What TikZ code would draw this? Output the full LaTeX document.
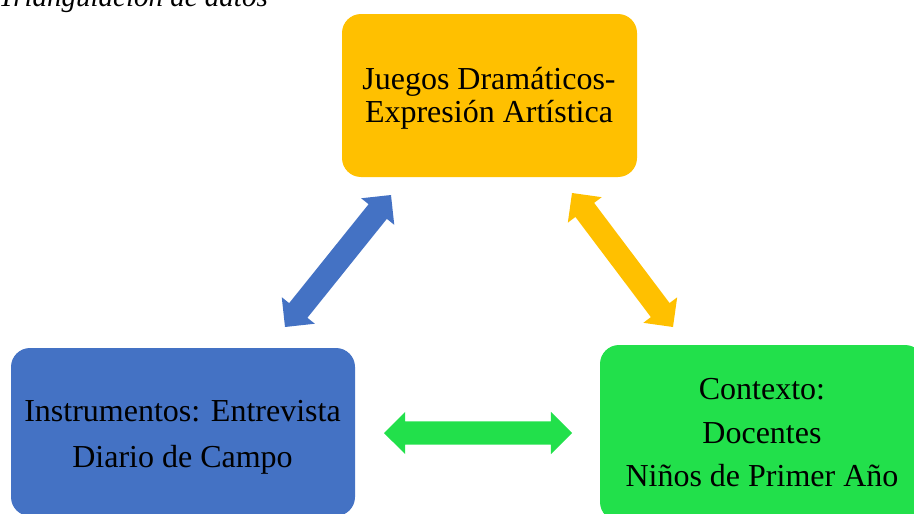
\documentclass[tikz,border=0pt]{standalone}
\usepackage{fontspec}
\setmainfont{Liberation Serif}
\usetikzlibrary{shapes.arrows,calc}
\definecolor{cyel}{HTML}{FFC000}
\definecolor{cblue}{HTML}{4472C4}
\definecolor{cgreen}{HTML}{22E04B}
\tikzset{
  box/.style={rounded corners=19pt, inner sep=0pt, draw=none},
  txt/.style={align=center, inner sep=0pt, text=black},
  dblarr/.style={double arrow, double arrow tip angle=90, double arrow head extend=9.5pt,
    inner xsep=0pt, inner ysep=11.5pt, fill=#1, draw=none},
}
\newcommand{\blockarrow}[3]{%
  \path let \p1=($(#3)-(#2)$), \n1={atan2(\y1,\x1)}, \n2={veclen(\x1,\y1)} in
    node[dblarr=#1, rotate=\n1, minimum height=\n2] at ($(#2)!0.5!(#3)$) {};}
\begin{document}
\begin{tikzpicture}[x=1pt,y=-1pt]
\useasboundingbox (0,0) rectangle (914,514);
% title (cut off at top)
\node[anchor=base east, inner sep=0pt, font=\itshape\fontsize{29}{32}\selectfont] (title) at (268,6) {Triangulación de datos};
% boxes
\node[box, fill=cyel, minimum width=295pt, minimum height=163pt] (yel) at (489.5,95.5) {};
\node[box, fill=cblue, minimum width=344pt, minimum height=168pt] (blu) at (183,432) {};
\node[box, fill=cgreen, minimum width=324pt, minimum height=176pt] (grn) at (762,433) {};
% texts
\node[txt, font=\fontsize{32}{33}\selectfont] (yelt) at (489,98) {Juegos Dramáticos-\\Expresión Artística};
\node[txt, font=\fontsize{32}{46}\selectfont] (blut) at (182.5,437) {Instrumentos: Entrevista\\Diario de Campo};
\node[txt, font=\fontsize{32}{43.5}\selectfont] (grnt) at (762,433) {Contexto:\\Docentes\\Niños de Primer Año};
% arrow end points
\coordinate (b1) at (285,327);
\coordinate (b2) at (391,195);
\coordinate (y1) at (572,193);
\coordinate (y2) at (673,327);
\coordinate (g1) at (384,433);
\coordinate (g2) at (572,433);
\blockarrow{cblue}{b1}{b2}
\blockarrow{cyel}{y1}{y2}
\blockarrow{cgreen}{g1}{g2}
\end{tikzpicture}
\end{document}
